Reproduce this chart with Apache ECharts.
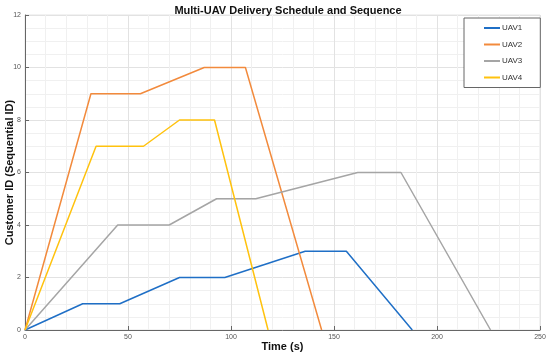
<!DOCTYPE html>
<html><head><meta charset="utf-8">
<script src="https://cdn.jsdelivr.net/npm/echarts@6/dist/echarts.min.js"></script>
<style>html,body{margin:0;padding:0;background:#fff}#c{width:550px;height:358px}</style>
</head><body><div id="c"></div>
<script>
const seriesNames = ['UAV1','UAV2','UAV3','UAV4'];
const uav1 = [[0,0],[28,1],[46,1],[75,2],[97,2],[136,3],[156,3],[188,0]];
const uav2 = [[0,0],[32,9],[56,9],[87,10],[107,10],[144,0]];
const uav3 = [[0,0],[45,4],[70,4],[93,5],[112,5],[161.5,6],[182.5,6],[226,0]];
const uav4 = [[0,0],[34.5,7],[57.5,7],[75,8],[92,8],[118,0]];
const colors = ['#1f6fc6','#f28a3c','#a5a5a5','#ffc20e'];
const allData = [uav1,uav2,uav3,uav4];

const chart = echarts.init(document.getElementById('c'));
chart.setOption({
  animation:false,
  title:{text:'Multi-UAV Delivery Schedule and Sequence',left:283,textAlign:'center',top:0,
    textStyle:{fontFamily:'Liberation Sans',fontSize:11,fontWeight:'bold',color:'#111'}},
  legend:{left:464,top:18,orient:'vertical',itemWidth:16,itemHeight:2,itemGap:8.5,
    padding:[6,18,6,20],borderColor:'#666',borderWidth:1,backgroundColor:'#fff',
    icon:'rect',textStyle:{fontFamily:'Liberation Sans',fontSize:8,color:'#333',padding:[0,0,0,-3]},
    data:seriesNames},
  grid:{left:25,right:10,top:15,bottom:28,containLabel:false,outerBoundsMode:'none',show:true,borderColor:'#e4e4e4',borderWidth:1},
  xAxis:{type:'value',min:0,max:250,interval:50,
    name:'Time (s)',nameLocation:'middle',nameGap:11,nameMoveOverlap:false,
    nameTextStyle:{fontFamily:'Liberation Sans',fontSize:11,fontWeight:'bold',color:'#111'},
    axisLine:{show:true,lineStyle:{color:'#666',width:1}},
    axisTick:{show:true,inside:true,length:4,lineStyle:{color:'#666'}},
    minorTick:{show:false,splitNumber:5},
    axisLabel:{fontFamily:'Liberation Sans',fontSize:7,color:'#555',margin:4},
    splitLine:{show:true,lineStyle:{color:'#e2e2e2',width:1}},
    minorSplitLine:{show:true,lineStyle:{color:'#f0f0f0',width:1}}},
  yAxis:{type:'value',min:0,max:12,interval:2,
    name:'Customer ID (Sequential ID)',nameLocation:'middle',nameGap:10,nameMoveOverlap:false,
    nameTextStyle:{fontFamily:'Liberation Sans',fontSize:11,fontWeight:'bold',color:'#111'},
    axisLine:{show:true,lineStyle:{color:'#666',width:1}},
    axisTick:{show:true,inside:true,length:4,lineStyle:{color:'#666'}},
    minorTick:{show:false,splitNumber:4},
    axisLabel:{fontFamily:'Liberation Sans',fontSize:7,color:'#555',margin:4},
    splitLine:{show:true,lineStyle:{color:'#e2e2e2',width:1}},
    minorSplitLine:{show:true,lineStyle:{color:'#f0f0f0',width:1}}},
  series: seriesNames.map((n,i)=>({name:n,type:'line',data:allData[i],showSymbol:false,symbol:'none',
    lineStyle:{color:colors[i],width:1.5},itemStyle:{color:colors[i]}}))
});
</script></body></html>
